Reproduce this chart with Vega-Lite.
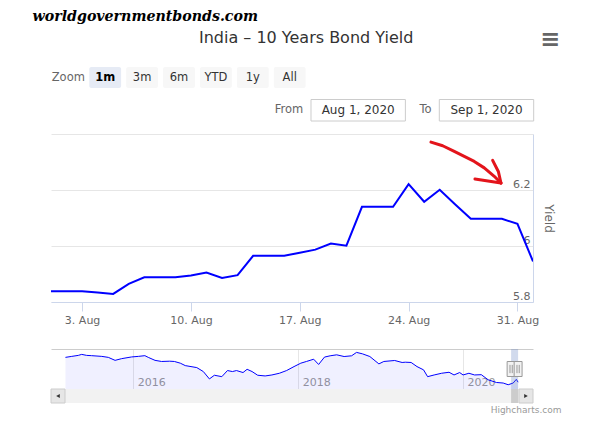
{
  "$schema": "https://vega.github.io/schema/vega-lite/v6.json",
  "background": "white",
  "padding": {"left": 32, "top": 10, "right": 10, "bottom": 10},
  "config": {
    "font": "DejaVu Sans",
    "view": {"stroke": null},
    "title": {"fontWeight": "normal"}
  },
  "title": {
    "text": "worldgovernmentbonds.com",
    "anchor": "start",
    "font": "DejaVu Serif",
    "fontSize": 14.2,
    "fontWeight": "bold",
    "fontStyle": "italic",
    "color": "#000000",
    "dx": -18,
    "offset": 3.5
  },
  "datasets": {
    "toolbar": [
      {"item": "Zoom", "kind": "label", "selected": false},
      {"item": "1m", "kind": "button", "selected": true},
      {"item": "3m", "kind": "button", "selected": false},
      {"item": "6m", "kind": "button", "selected": false},
      {"item": "YTD", "kind": "button", "selected": false},
      {"item": "1y", "kind": "button", "selected": false},
      {"item": "All", "kind": "button", "selected": false},
      {"item": "≡", "kind": "menu", "selected": false}
    ],
    "range": [
      {"label": "From", "date": "Aug 1, 2020"},
      {"label": "To", "date": "Sep 1, 2020"}
    ],
    "yield": [
      {"date": "2020-07-31", "yield": 5.838},
      {"date": "2020-08-03", "yield": 5.838},
      {"date": "2020-08-04", "yield": 5.834},
      {"date": "2020-08-05", "yield": 5.829},
      {"date": "2020-08-06", "yield": 5.865},
      {"date": "2020-08-07", "yield": 5.888},
      {"date": "2020-08-09", "yield": 5.888},
      {"date": "2020-08-10", "yield": 5.895},
      {"date": "2020-08-11", "yield": 5.905},
      {"date": "2020-08-12", "yield": 5.886},
      {"date": "2020-08-13", "yield": 5.896},
      {"date": "2020-08-14", "yield": 5.965},
      {"date": "2020-08-16", "yield": 5.965},
      {"date": "2020-08-17", "yield": 5.976},
      {"date": "2020-08-18", "yield": 5.987},
      {"date": "2020-08-19", "yield": 6.009},
      {"date": "2020-08-20", "yield": 6.001},
      {"date": "2020-08-21", "yield": 6.14},
      {"date": "2020-08-23", "yield": 6.14},
      {"date": "2020-08-24", "yield": 6.221},
      {"date": "2020-08-25", "yield": 6.158},
      {"date": "2020-08-26", "yield": 6.201},
      {"date": "2020-08-27", "yield": 6.148},
      {"date": "2020-08-28", "yield": 6.097},
      {"date": "2020-08-30", "yield": 6.097},
      {"date": "2020-08-31", "yield": 6.079},
      {"date": "2020-09-01", "yield": 5.945}
    ],
    "arrow": [
      {"stroke": "shaft", "seq": 1, "t": "2020-08-25T10:29:00Z", "v": 6.371},
      {"stroke": "shaft", "seq": 2, "t": "2020-08-26T04:34:00Z", "v": 6.358},
      {"stroke": "shaft", "seq": 3, "t": "2020-08-26T22:28:00Z", "v": 6.338},
      {"stroke": "shaft", "seq": 4, "t": "2020-08-27T13:54:00Z", "v": 6.32},
      {"stroke": "shaft", "seq": 5, "t": "2020-08-28T05:20:00Z", "v": 6.302},
      {"stroke": "shaft", "seq": 6, "t": "2020-08-28T20:46:00Z", "v": 6.279},
      {"stroke": "shaft", "seq": 7, "t": "2020-08-29T12:11:00Z", "v": 6.249},
      {"stroke": "shaft", "seq": 8, "t": "2020-08-29T22:32:00Z", "v": 6.225},
      {"stroke": "barb1", "seq": 1, "t": "2020-08-28T06:24:00Z", "v": 6.239},
      {"stroke": "barb1", "seq": 2, "t": "2020-08-29T22:32:00Z", "v": 6.225},
      {"stroke": "barb2", "seq": 1, "t": "2020-08-29T09:43:00Z", "v": 6.306},
      {"stroke": "barb2", "seq": 2, "t": "2020-08-29T18:40:00Z", "v": 6.265},
      {"stroke": "barb2", "seq": 3, "t": "2020-08-29T22:32:00Z", "v": 6.225}
    ],
    "history": [
      {"date": "2015-03-06", "yield": 7.75},
      {"date": "2015-04-03", "yield": 7.82},
      {"date": "2015-05-02", "yield": 7.89},
      {"date": "2015-05-17", "yield": 7.96},
      {"date": "2015-06-08", "yield": 7.89},
      {"date": "2015-06-30", "yield": 7.87},
      {"date": "2015-08-14", "yield": 7.82},
      {"date": "2015-09-12", "yield": 7.75},
      {"date": "2015-10-12", "yield": 7.54},
      {"date": "2015-11-10", "yield": 7.66},
      {"date": "2015-12-24", "yield": 7.78},
      {"date": "2016-01-23", "yield": 7.82},
      {"date": "2016-02-21", "yield": 7.87},
      {"date": "2016-03-07", "yield": 7.75},
      {"date": "2016-04-06", "yield": 7.54},
      {"date": "2016-05-05", "yield": 7.46},
      {"date": "2016-06-10", "yield": 7.48},
      {"date": "2016-07-01", "yield": 7.46},
      {"date": "2016-07-27", "yield": 7.34},
      {"date": "2016-08-18", "yield": 7.17},
      {"date": "2016-10-08", "yield": 7.03},
      {"date": "2016-11-06", "yield": 6.75},
      {"date": "2016-12-03", "yield": 6.23},
      {"date": "2016-12-25", "yield": 6.49},
      {"date": "2017-01-27", "yield": 6.39},
      {"date": "2017-02-21", "yield": 6.82},
      {"date": "2017-03-15", "yield": 6.75},
      {"date": "2017-04-02", "yield": 6.82},
      {"date": "2017-05-01", "yield": 6.68},
      {"date": "2017-05-19", "yield": 6.91},
      {"date": "2017-06-10", "yield": 6.75},
      {"date": "2017-07-05", "yield": 6.49},
      {"date": "2017-08-07", "yield": 6.44},
      {"date": "2017-09-06", "yield": 6.51},
      {"date": "2017-10-09", "yield": 6.63},
      {"date": "2017-11-10", "yield": 6.82},
      {"date": "2017-12-13", "yield": 7.1},
      {"date": "2018-01-12", "yield": 7.34},
      {"date": "2018-02-06", "yield": 7.46},
      {"date": "2018-03-10", "yield": 7.62},
      {"date": "2018-04-01", "yield": 7.25},
      {"date": "2018-04-27", "yield": 7.77},
      {"date": "2018-05-22", "yield": 7.86},
      {"date": "2018-06-20", "yield": 7.93},
      {"date": "2018-07-23", "yield": 7.81},
      {"date": "2018-08-25", "yield": 7.86},
      {"date": "2018-09-16", "yield": 8.1},
      {"date": "2018-10-12", "yield": 8.0},
      {"date": "2018-11-14", "yield": 7.81},
      {"date": "2018-12-24", "yield": 7.29},
      {"date": "2019-01-15", "yield": 7.46},
      {"date": "2019-03-04", "yield": 7.53},
      {"date": "2019-04-06", "yield": 7.39},
      {"date": "2019-04-20", "yield": 7.41},
      {"date": "2019-05-16", "yield": 7.39},
      {"date": "2019-06-11", "yield": 7.1},
      {"date": "2019-07-10", "yield": 6.87},
      {"date": "2019-07-28", "yield": 6.39},
      {"date": "2019-08-26", "yield": 6.51},
      {"date": "2019-09-28", "yield": 6.63},
      {"date": "2019-10-31", "yield": 6.7},
      {"date": "2019-11-22", "yield": 6.51},
      {"date": "2019-12-17", "yield": 6.68},
      {"date": "2020-01-01", "yield": 6.51},
      {"date": "2020-01-27", "yield": 6.63},
      {"date": "2020-02-21", "yield": 6.51},
      {"date": "2020-03-22", "yield": 6.53},
      {"date": "2020-04-21", "yield": 6.17},
      {"date": "2020-05-28", "yield": 5.98},
      {"date": "2020-06-27", "yield": 5.94},
      {"date": "2020-07-19", "yield": 5.82},
      {"date": "2020-08-10", "yield": 5.94},
      {"date": "2020-08-24", "yield": 6.2},
      {"date": "2020-09-01", "yield": 6.0}
    ],
    "selection": [
      {"start": "2020-08-01", "end": "2020-09-01"}
    ],
    "handles": [
      {"date": "2020-08-01"},
      {"date": "2020-09-01"}
    ],
    "scrollButtons": [
      {"side": "left"},
      {"side": "right"}
    ]
  },
  "spacing": 12,
  "vconcat": [
    {
      "spacing": 11.5,
      "bounds": "flush",
      "vconcat": [
        {
          "width": 514.3,
          "height": 21,
          "title": {
            "text": "India – 10 Years Bond Yield",
            "fontSize": 16,
            "fontWeight": "normal",
            "color": "#333333",
            "anchor": "middle",
            "dx": -2,
            "offset": -17.6
          },
          "data": {"name": "toolbar"},
          "encoding": {
            "x": {
              "field": "item",
              "type": "nominal",
              "scale": {
                "type": "band",
                "domain": ["Zoom", "1m", "3m", "6m", "YTD", "1y", "All", "s1", "s2", "s3", "s4", "s5", "s6", "≡"],
                "paddingInner": 0.138,
                "paddingOuter": 0.038
              },
              "axis": null
            }
          },
          "layer": [
            {
              "transform": [{"filter": "datum.kind == 'button'"}],
              "mark": {"type": "rect", "cornerRadius": 2},
              "encoding": {
                "color": {"condition": {"test": "datum.selected", "value": "#e6ebf5"}, "value": "#f7f7f7"}
              }
            },
            {
              "transform": [{"filter": "datum.kind == 'label'"}],
              "mark": {"type": "text", "fontSize": 11.5, "color": "#666666"},
              "encoding": {"text": {"field": "item"}}
            },
            {
              "transform": [{"filter": "datum.kind == 'button' && !datum.selected"}],
              "mark": {"type": "text", "fontSize": 11.5, "color": "#333333"},
              "encoding": {"text": {"field": "item"}}
            },
            {
              "transform": [{"filter": "datum.kind == 'button' && datum.selected"}],
              "mark": {"type": "text", "fontSize": 11.5, "fontWeight": "bold", "color": "#000000"},
              "encoding": {"text": {"field": "item"}}
            },
            {
              "transform": [{"filter": "datum.kind == 'menu'"}],
              "mark": {"type": "text", "fontSize": 24, "fontWeight": "bold", "color": "#666666", "dy": -37.5, "dx": 2},
              "encoding": {"text": {"field": "item"}}
            }
          ]
        },
        {
          "width": 435.5,
          "height": 21.5,
          "data": {"name": "range"},
          "encoding": {
            "x": {
              "field": "date",
              "type": "nominal",
              "scale": {"type": "point", "domain": ["·", "Aug 1, 2020", "Sep 1, 2020"], "padding": 0.697, "align": 1},
              "axis": null
            }
          },
          "layer": [
            {"mark": {"type": "rect", "width": 94.4, "fill": "#ffffff", "stroke": "#cccccc", "strokeWidth": 1}},
            {"mark": {"type": "text", "fontSize": 12, "color": "#333333"}, "encoding": {"text": {"field": "date"}}},
            {"mark": {"type": "text", "fontSize": 11.5, "color": "#666666", "align": "right", "dx": -55}, "encoding": {"text": {"field": "label"}}}
          ]
        }
      ]
    },
    {
      "spacing": 47,
      "bounds": "flush",
      "vconcat": [
        {
          "width": 482,
          "height": 168,
          "layer": [
            {
              "data": {"name": "yield"},
              "mark": {"type": "line", "color": "#0000ff", "strokeWidth": 2, "clip": true},
              "encoding": {
                "x": {
                  "field": "date",
                  "type": "temporal",
                  "scale": {
                    "type": "utc",
                    "domain": [
                      {"year": 2020, "month": 8, "date": 1, "utc": true},
                      {"year": 2020, "month": 9, "date": 1, "utc": true}
                    ]
                  },
                  "axis": {
                    "title": null,
                    "values": [
                      {"year": 2020, "month": 8, "date": 3, "utc": true},
                      {"year": 2020, "month": 8, "date": 10, "utc": true},
                      {"year": 2020, "month": 8, "date": 17, "utc": true},
                      {"year": 2020, "month": 8, "date": 24, "utc": true},
                      {"year": 2020, "month": 8, "date": 31, "utc": true}
                    ],
                    "format": "%-d. %b",
                    "grid": false,
                    "domainColor": "#ccd6eb",
                    "tickColor": "#ccd6eb",
                    "tickSize": 9,
                    "labelColor": "#666666",
                    "labelFontSize": 11,
                    "labelPadding": 3,
                    "labelFlush": false
                  }
                },
                "y": {
                  "field": "yield",
                  "type": "quantitative",
                  "scale": {"domain": [5.8, 6.4], "zero": false, "nice": false},
                  "axis": {
                    "orient": "right",
                    "title": "Yield",
                    "values": [5.8, 6, 6.2, 6.4],
                    "format": "~g",
                    "labelExpr": "datum.value > 6.3 ? '' : datum.label",
                    "grid": true,
                    "gridColor": "#e6e6e6",
                    "domainColor": "#ccd6eb",
                    "ticks": false,
                    "labelAlign": "right",
                    "labelBaseline": "alphabetic",
                    "labelPadding": -3,
                    "labelOffset": -3,
                    "labelColor": "#666666",
                    "labelFontSize": 11,
                    "titleColor": "#666666",
                    "titleFontSize": 12,
                    "titleFontWeight": "normal",
                    "titlePadding": 8
                  }
                }
              }
            },
            {
              "data": {"name": "arrow"},
              "mark": {"type": "line", "color": "#e3141b", "strokeWidth": 3, "strokeCap": "round", "strokeJoin": "round"},
              "encoding": {
                "x": {"field": "t", "type": "temporal"},
                "y": {"field": "v", "type": "quantitative"},
                "detail": {"field": "stroke"},
                "order": {"field": "seq"}
              }
            }
          ]
        },
        {
          "spacing": 0,
          "bounds": "flush",
          "vconcat": [
            {
              "width": 482,
              "height": 40,
              "resolve": {"axis": {"x": "independent"}},
              "layer": [
                {
                  "data": {"name": "history"},
                  "mark": {
                    "type": "area",
                    "color": "#0000ff",
                    "fillOpacity": 0.06,
                    "line": {"color": "#0000ff", "strokeWidth": 1},
                    "clip": true
                  },
                  "encoding": {
                    "x": {
                      "field": "date",
                      "type": "temporal",
                      "scale": {
                        "type": "utc",
                        "domain": [
                          {"year": 2015, "month": 1, "date": 1, "utc": true},
                          {"year": 2020, "month": 11, "date": 6, "utc": true}
                        ]
                      },
                      "axis": {
                        "orient": "bottom",
                        "title": null,
                        "values": [
                          {"year": 2016, "month": 1, "date": 1, "utc": true},
                          {"year": 2018, "month": 1, "date": 1, "utc": true},
                          {"year": 2020, "month": 1, "date": 1, "utc": true}
                        ],
                        "format": "%Y",
                        "grid": true,
                        "gridColor": "#e6e6e6",
                        "domain": false,
                        "ticks": false,
                        "labelAlign": "left",
                        "labelBaseline": "alphabetic",
                        "labelPadding": -4,
                        "labelOffset": 4,
                        "labelColor": "#999999",
                        "labelFontSize": 11,
                        "labelFlush": false
                      }
                    },
                    "y": {
                      "field": "yield",
                      "type": "quantitative",
                      "scale": {"domain": [5.52, 8.34], "zero": false, "nice": false},
                      "axis": null
                    }
                  }
                },
                {
                  "data": {"name": "selection"},
                  "mark": {"type": "rect", "fill": "#6685c2", "opacity": 0.3},
                  "encoding": {
                    "x": {
                      "field": "start",
                      "type": "temporal",
                      "axis": {"orient": "top", "title": null, "labels": false, "ticks": false, "grid": false, "domainColor": "#cccccc"}
                    },
                    "x2": {"field": "end"}
                  }
                },
                {
                  "data": {"name": "handles"},
                  "mark": {
                    "type": "point",
                    "shape": "M-0.53,-1H0.53V1H-0.53Z M-0.15,-0.55V0.55 M0.15,-0.55V0.55",
                    "size": 225,
                    "filled": false,
                    "fill": "#f2f2f2",
                    "fillOpacity": 1,
                    "stroke": "#999999",
                    "strokeWidth": 1,
                    "opacity": 1
                  },
                  "encoding": {
                    "x": {"field": "date", "type": "temporal", "axis": null}
                  }
                }
              ]
            },
            {
              "width": 482,
              "height": 14,
              "view": {"fill": "#f2f2f2", "stroke": null},
              "title": {
                "text": "Highcharts.com",
                "orient": "bottom",
                "anchor": "end",
                "fontSize": 9,
                "color": "#999999",
                "fontWeight": "normal",
                "dx": 28,
                "offset": 2
              },
              "resolve": {"scale": {"x": "independent"}},
              "layer": [
                {
                  "data": {"name": "selection"},
                  "mark": {"type": "rect", "color": "#cccccc"},
                  "encoding": {
                    "x": {
                      "field": "start",
                      "type": "temporal",
                      "scale": {
                        "type": "utc",
                        "domain": [
                          {"year": 2015, "month": 1, "date": 1, "utc": true},
                          {"year": 2020, "month": 11, "date": 6, "utc": true}
                        ]
                      },
                      "axis": null
                    },
                    "x2": {"field": "end"}
                  }
                },
                {
                  "data": {"name": "scrollButtons"},
                  "mark": {"type": "rect", "fill": "#e6e6e6", "stroke": "#cccccc", "strokeWidth": 1},
                  "encoding": {
                    "x": {
                      "field": "side",
                      "type": "nominal",
                      "scale": {"type": "band", "domain": ["left", "right"], "paddingInner": 0.97009, "paddingOuter": 0},
                      "axis": null
                    }
                  }
                },
                {
                  "data": {"name": "scrollButtons"},
                  "mark": {"type": "point", "filled": true, "color": "#333333", "opacity": 1, "size": 18},
                  "encoding": {
                    "x": {
                      "field": "side",
                      "type": "nominal",
                      "scale": {"type": "band", "domain": ["left", "right"], "paddingInner": 0.97009, "paddingOuter": 0},
                      "axis": null
                    },
                    "shape": {
                      "field": "side",
                      "type": "nominal",
                      "scale": {"domain": ["left", "right"], "range": ["triangle-left", "triangle-right"]},
                      "legend": null
                    }
                  }
                }
              ]
            }
          ]
        }
      ]
    }
  ]
}
